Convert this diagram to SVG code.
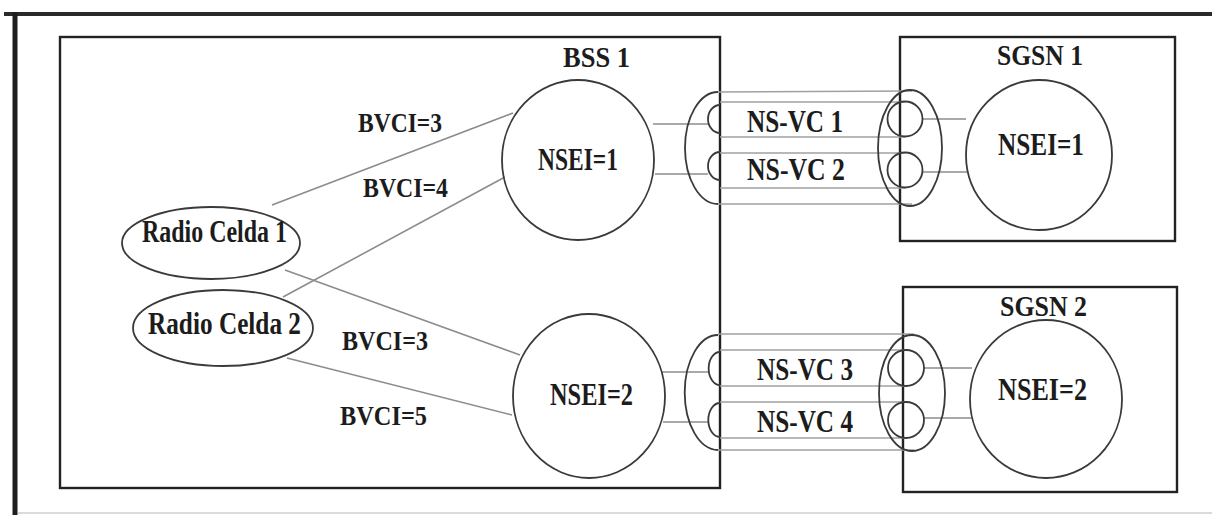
<svg xmlns="http://www.w3.org/2000/svg" width="1212" height="515" viewBox="0 0 1212 515">
<style>
.t{font-family:"Liberation Serif","Times New Roman",serif;font-weight:bold;fill:#1c1c1c}
.box{fill:none;stroke:#222;stroke-width:2.4}
.node{fill:none;stroke:#3a3a3a;stroke-width:1.8}
.link{fill:none;stroke:#8c8c8c;stroke-width:1.6}
.tube{fill:none;stroke:#a0a0a0;stroke-width:1.5}
</style>
<rect x="0" y="0" width="1212" height="515" fill="#fff"/>
<g id="frame">
<line x1="4" y1="14" x2="1212" y2="14" stroke="#2a2a2a" stroke-width="4"/>
<line x1="15" y1="12" x2="15" y2="515" stroke="#1e1e1e" stroke-width="5"/>
<line x1="18" y1="513" x2="1212" y2="513" stroke="#cfcfcf" stroke-width="1.5"/>
</g>
<g id="bss1">
<rect class="box" x="60" y="37" width="660" height="451"/>
<text class="t" x="563" y="67" font-size="29" textLength="67" lengthAdjust="spacingAndGlyphs">BSS 1</text>
</g>
<g id="sgsn1">
<rect class="box" x="900" y="37" width="275" height="204"/>
<text class="t" x="997" y="65" font-size="30" textLength="86" lengthAdjust="spacingAndGlyphs">SGSN 1</text>
</g>
<g id="sgsn2">
<rect class="box" x="903" y="287" width="274" height="205"/>
<text class="t" x="1000" y="316" font-size="30" textLength="87" lengthAdjust="spacingAndGlyphs">SGSN 2</text>
</g>
<g id="connectors">
<line class="link" x1="272" y1="205" x2="513" y2="113"/>
<line class="link" x1="283" y1="297" x2="505" y2="177"/>
<line class="link" x1="285" y1="270" x2="520" y2="355"/>
<line class="link" x1="287" y1="358" x2="512" y2="415"/>
<line class="link" x1="653" y1="124" x2="708" y2="124"/>
<line class="link" x1="655" y1="174" x2="708" y2="174"/>
<line class="link" x1="922" y1="119" x2="966" y2="119"/>
<line class="link" x1="922" y1="172" x2="967" y2="172"/>
<line class="link" x1="662" y1="372" x2="709" y2="372"/>
<line class="link" x1="663" y1="422" x2="709" y2="422"/>
<line class="link" x1="924" y1="368" x2="972" y2="368"/>
<line class="link" x1="924" y1="418" x2="972" y2="418"/>
</g>
<g id="nsvc-group-1">
<line class="tube" x1="718" y1="92" x2="912" y2="91"/>
<line class="tube" x1="720" y1="102" x2="905" y2="102"/>
<line class="tube" x1="720" y1="137" x2="905" y2="137"/>
<line class="tube" x1="720" y1="153" x2="905" y2="153"/>
<line class="tube" x1="720" y1="188" x2="905" y2="188"/>
<line class="tube" x1="718" y1="204" x2="912" y2="204"/>
<path class="node" d="M718 92 A33 56 0 0 0 718 204"/>
<path class="node" d="M720 105 A12 14 0 0 0 720 133"/>
<path class="node" d="M720 152 A12 14 0 0 0 720 180"/>
<ellipse class="node" cx="910" cy="148" rx="32" ry="58"/>
<circle class="node" cx="905" cy="119" r="17.5"/>
<circle class="node" cx="905" cy="170" r="17.5"/>
<text class="t" x="747" y="132" font-size="31" textLength="96" lengthAdjust="spacingAndGlyphs">NS-VC 1</text>
<text class="t" x="747" y="180" font-size="31" textLength="98" lengthAdjust="spacingAndGlyphs">NS-VC 2</text>
</g>
<g id="nsvc-group-2">
<line class="tube" x1="718" y1="334" x2="914" y2="334"/>
<line class="tube" x1="720" y1="350" x2="906" y2="350"/>
<line class="tube" x1="720" y1="386" x2="906" y2="386"/>
<line class="tube" x1="720" y1="402" x2="906" y2="402"/>
<line class="tube" x1="720" y1="438" x2="906" y2="438"/>
<line class="tube" x1="718" y1="450" x2="914" y2="450"/>
<path class="node" d="M718 335 A33 57 0 0 0 718 450"/>
<path class="node" d="M720 352 A11 16 0 0 0 720 385"/>
<path class="node" d="M720 403 A11 16 0 0 0 720 437"/>
<ellipse class="node" cx="912" cy="393" rx="33" ry="58"/>
<circle class="node" cx="906" cy="368" r="18"/>
<circle class="node" cx="906" cy="420" r="18"/>
<text class="t" x="757" y="380" font-size="31" textLength="96" lengthAdjust="spacingAndGlyphs">NS-VC 3</text>
<text class="t" x="757" y="432" font-size="31" textLength="96" lengthAdjust="spacingAndGlyphs">NS-VC 4</text>
</g>
<g id="bss-nsei1">
<ellipse class="node" cx="578" cy="160" rx="76" ry="80"/>
<text class="t" x="538" y="170" font-size="31" textLength="80" lengthAdjust="spacingAndGlyphs">NSEI=1</text>
</g>
<g id="bss-nsei2">
<ellipse class="node" cx="589" cy="396" rx="76" ry="82"/>
<text class="t" x="550" y="405" font-size="31" textLength="83" lengthAdjust="spacingAndGlyphs">NSEI=2</text>
</g>
<g id="sgsn1-nsei1">
<ellipse class="node" cx="1039" cy="155" rx="73" ry="75"/>
<text class="t" x="998" y="155" font-size="31" textLength="86" lengthAdjust="spacingAndGlyphs">NSEI=1</text>
</g>
<g id="sgsn2-nsei2">
<ellipse class="node" cx="1046" cy="399" rx="76" ry="79"/>
<text class="t" x="998" y="400" font-size="31" textLength="89" lengthAdjust="spacingAndGlyphs">NSEI=2</text>
</g>
<g id="radio-celda-1">
<ellipse class="node" cx="211" cy="243" rx="89" ry="36"/>
<text class="t" x="142" y="242" font-size="31" textLength="145" lengthAdjust="spacingAndGlyphs">Radio Celda 1</text>
</g>
<g id="radio-celda-2">
<ellipse class="node" cx="223" cy="328" rx="90" ry="38"/>
<text class="t" x="148" y="334" font-size="31" textLength="153" lengthAdjust="spacingAndGlyphs">Radio Celda 2</text>
</g>
<g id="labels">
<text class="t" x="358" y="132" font-size="28" textLength="84" lengthAdjust="spacingAndGlyphs">BVCI=3</text>
<text class="t" x="363" y="197" font-size="28" textLength="85" lengthAdjust="spacingAndGlyphs">BVCI=4</text>
<text class="t" x="342" y="350" font-size="28" textLength="86" lengthAdjust="spacingAndGlyphs">BVCI=3</text>
<text class="t" x="340" y="425" font-size="28" textLength="87" lengthAdjust="spacingAndGlyphs">BVCI=5</text>
</g>
</svg>
